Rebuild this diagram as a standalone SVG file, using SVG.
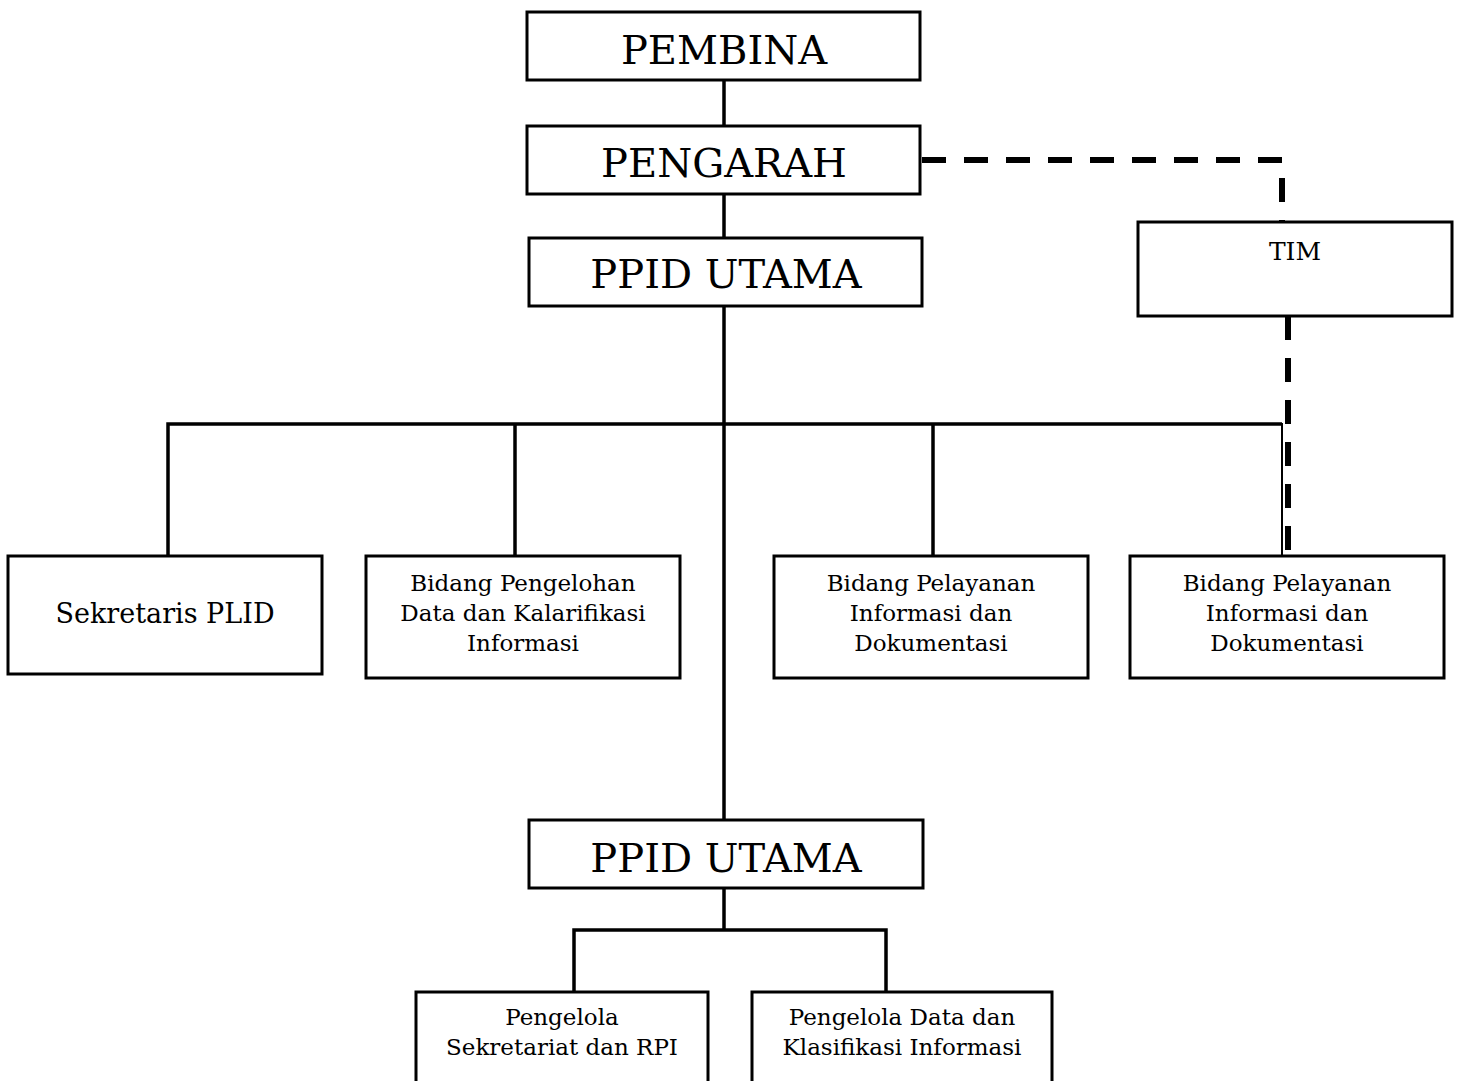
<svg xmlns="http://www.w3.org/2000/svg" width="1458" height="1081" viewBox="0 0 1458 1081">
<style>
.box{fill:#fff;stroke:#000;stroke-width:3}
.ln{stroke:#000;stroke-width:3.5;fill:none}
.thin{stroke:#000;stroke-width:2;fill:none}
.dash{stroke:#000;stroke-width:6;fill:none;stroke-dasharray:24 18}
.big{font-family:"DejaVu Serif","Liberation Serif",serif;font-size:40px;text-anchor:middle;fill:#000}
.sm{font-family:"DejaVu Serif","Liberation Serif",serif;font-size:23px;text-anchor:middle;fill:#000}
.md{font-family:"DejaVu Serif","Liberation Serif",serif;font-size:27px;text-anchor:middle;fill:#000}
.tim{font-family:"DejaVu Serif","Liberation Serif",serif;font-size:25px;text-anchor:middle;fill:#000}
</style>
<rect width="1458" height="1081" fill="#fff"/>
<g id="connectors">
<line class="ln" x1="724" y1="80" x2="724" y2="126"/>
<line class="ln" x1="724" y1="194" x2="724" y2="238"/>
<line class="ln" x1="724" y1="306" x2="724" y2="820"/>
<polyline class="ln" points="168,556 168,424 1282,424"/>
<line class="ln" x1="515" y1="424" x2="515" y2="556"/>
<line class="ln" x1="933" y1="424" x2="933" y2="556"/>
<line class="thin" x1="1282" y1="423" x2="1282" y2="556"/>
<path class="dash" d="M922,160 H1282 V222"/>
<path class="dash" d="M1288,316 V552"/>
<line class="ln" x1="724" y1="888" x2="724" y2="930"/>
<polyline class="ln" points="574,992 574,930 886,930 886,992"/>
</g>
<g id="pembina"><rect class="box" x="527" y="12" width="393" height="68"/><text class="big" x="724" y="64">PEMBINA</text></g>
<g id="pengarah"><rect class="box" x="527" y="126" width="393" height="68"/><text class="big" x="724" y="177">PENGARAH</text></g>
<g id="ppid-utama"><rect class="box" x="529" y="238" width="393" height="68"/><text class="big" x="726" y="288">PPID UTAMA</text></g>
<g id="tim"><rect class="box" x="1138" y="222" width="314" height="94"/><text class="tim" x="1295" y="260">TIM</text></g>
<g id="sekretaris"><rect class="box" x="8" y="556" width="314" height="118"/><text class="md" x="165" y="623">Sekretaris PLID</text></g>
<g id="bidang-pengelohan"><rect class="box" x="366" y="556" width="314" height="122"/><text class="sm" x="523" y="591">Bidang Pengelohan</text><text class="sm" x="523" y="621">Data dan Kalarifikasi</text><text class="sm" x="523" y="651">Informasi</text></g>
<g id="bidang-pelayanan-1"><rect class="box" x="774" y="556" width="314" height="122"/><text class="sm" x="931" y="591">Bidang Pelayanan</text><text class="sm" x="931" y="621">Informasi dan</text><text class="sm" x="931" y="651">Dokumentasi</text></g>
<g id="bidang-pelayanan-2"><rect class="box" x="1130" y="556" width="314" height="122"/><text class="sm" x="1287" y="591">Bidang Pelayanan</text><text class="sm" x="1287" y="621">Informasi dan</text><text class="sm" x="1287" y="651">Dokumentasi</text></g>
<g id="ppid-utama-2"><rect class="box" x="529" y="820" width="394" height="68"/><text class="big" x="726" y="872">PPID UTAMA</text></g>
<g id="pengelola-sekretariat"><rect class="box" x="416" y="992" width="292" height="100"/><text class="sm" x="562" y="1025">Pengelola</text><text class="sm" x="562" y="1055">Sekretariat dan RPI</text></g>
<g id="pengelola-data"><rect class="box" x="752" y="992" width="300" height="100"/><text class="sm" x="902" y="1025">Pengelola Data dan</text><text class="sm" x="902" y="1055">Klasifikasi Informasi</text></g>
</svg>
